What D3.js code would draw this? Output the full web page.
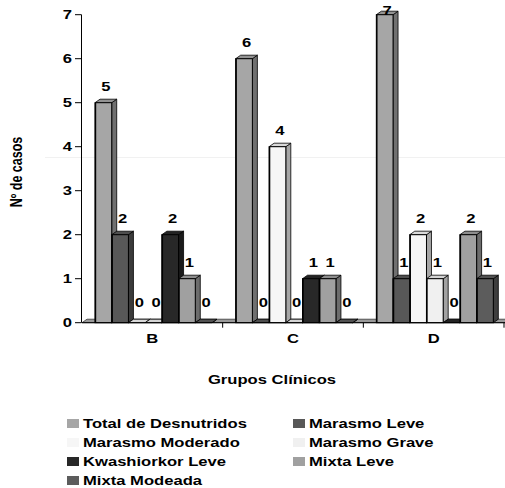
<!DOCTYPE html>
<html>
<head>
<meta charset="utf-8">
<script src="https://cdn.jsdelivr.net/npm/d3@7"></script>
<style>
  html, body { margin: 0; padding: 0; background: #fff; }
  svg { display: block; }
  text { font-family: "Liberation Sans", Arial, Helvetica, sans-serif; font-weight: bold; fill: #000; }
</style>
</head>
<body>
<svg id="chart" width="505" height="488"></svg>
<script>
// Clinical groups on the x axis
const groups = ["B", "C", "D"];

// Malnutrition types (one bar per type inside each group)
const series = [
  "Total de Desnutridos",
  "Marasmo Leve",
  "Marasmo Moderado",
  "Marasmo Grave",
  "Kwashiorkor Leve",
  "Mixta Leve",
  "Mixta Modeada"
];

// Number of cases per type, in group order B, C, D
const totalDesnutridos = [5, 6, 7];
const marasmoLeve      = [2, 0, 1];
const marasmoModerado  = [0, 4, 2];
const marasmoGrave     = [0, 0, 1];
const kwashiorkorLeve  = [2, 1, 0];
const mixtaLeve        = [1, 1, 2];
const mixtaModeada     = [0, 0, 1];

const yTicks = [0, 1, 2, 3, 4, 5, 6, 7];

const seriesValues = [totalDesnutridos, marasmoLeve, marasmoModerado, marasmoGrave,
                      kwashiorkorLeve, mixtaLeve, mixtaModeada];

const seriesColors = ["#a6a6a6", "#585858", "#f6f6f6", "#f0f0f0", "#282828", "#a0a0a0", "#5c5c5c"];

// Flatten into one row per bar
const rows = [];
groups.forEach((g, gi) => {
  series.forEach((s, si) => {
    rows.push({ group: g, series: s, si: si, value: seriesValues[si][gi] });
  });
});

const svg = d3.select("#chart");
const SX = 1.33;          // horizontal stretch of the lettering
const depthX = 5, depthY = 3.5;   // 3-D offset of the bars

const y = d3.scaleLinear().domain([0, 7]).range([322.7, 14.7]);
const x0 = d3.scaleBand().domain(groups).range([82, 504]).padding(0);
const x1 = d3.scaleBand().domain(series).range([13, 130]).padding(0);
const color = d3.scaleOrdinal().domain(series).range(seriesColors);

const base = y(0);

// faint horizontal rule
svg.append("line")
  .attr("x1", 45).attr("x2", 505)
  .attr("y1", 157.5).attr("y2", 157.5)
  .attr("stroke", "#f1f1f1").attr("stroke-width", 1);

// 3-D floor strip along the base
const [fx0, fx1] = x0.range();
svg.append("polygon")
  .attr("points", [[fx0, base], [fx0 + depthX, base - depthY], [fx1 + 1 + depthX, base - depthY], [fx1 + 1, base]].map(p => p.join(",")).join(" "))
  .attr("fill", "#9a9a9a")
  .attr("stroke", "#222")
  .attr("stroke-width", 0.7);

// Bars: side, top, then front, left to right
const bars = svg.append("g").selectAll("g.bar")
  .data(rows)
  .join("g")
  .attr("class", "bar");

bars.each(function (d) {
  const g = d3.select(this);
  const x = x0(d.group) + x1(d.series);
  const w = x1.bandwidth();
  const top = y(d.value);
  const c = d3.color(color(d.series));
  const topC = c.darker(0.35);
  const sideC = c.l < 0 ? c : d3.color(color(d.series)).darker(1.1);

  g.append("polygon")
    .attr("points", [[x + w, top], [x + w + depthX, top - depthY], [x + w + depthX, base - depthY], [x + w, base]].map(p => p.join(",")).join(" "))
    .attr("fill", sideC)
    .attr("stroke", "#000").attr("stroke-width", 0.8).attr("stroke-linejoin", "round");

  g.append("polygon")
    .attr("points", [[x, top], [x + depthX, top - depthY], [x + w + depthX, top - depthY], [x + w, top]].map(p => p.join(",")).join(" "))
    .attr("fill", topC)
    .attr("stroke", "#000").attr("stroke-width", 0.8).attr("stroke-linejoin", "round");

  if (base - top > 0) {
    g.append("rect")
      .attr("x", x).attr("y", top)
      .attr("width", w).attr("height", base - top)
      .attr("fill", c)
      .attr("stroke", "#000").attr("stroke-width", 1);
    g.append("line")
      .attr("x1", x + 0.5).attr("x2", x + 0.5)
      .attr("y1", top).attr("y2", base)
      .attr("stroke", "#000").attr("stroke-width", 1.4);
  }
});

// Value labels above each bar
svg.append("g").selectAll("text")
  .data(rows)
  .join("text")
  .attr("text-anchor", "middle")
  .attr("font-size", 12.5)
  .attr("transform", d => {
    const cx = x0(d.group) + x1(d.series) + x1.bandwidth() / 2 + depthX / 2;
    const ty = Math.max(y(d.value) - 12 - (d.value === 0 ? 4 : 0), 15);
    return `translate(${cx},${ty}) scale(${SX},1)`;
  })
  .text(d => d.value);

// Y axis
const yAxis = svg.append("g");
yAxis.append("line")
  .attr("x1", 81.5).attr("x2", 81.5)
  .attr("y1", y(7)).attr("y2", base)
  .attr("stroke", "#000").attr("stroke-width", 1);
yAxis.selectAll("line.tick")
  .data(yTicks)
  .join("line")
  .attr("class", "tick")
  .attr("x1", 75).attr("x2", 81.5)
  .attr("y1", d => y(d)).attr("y2", d => y(d))
  .attr("stroke", "#000").attr("stroke-width", 1);
yAxis.selectAll("text")
  .data(yTicks)
  .join("text")
  .attr("text-anchor", "end")
  .attr("font-size", 12.5)
  .attr("dy", "0.36em")
  .attr("transform", d => `translate(72,${y(d)}) scale(${SX},1)`)
  .text(d => d);

// X axis
const xAxis = svg.append("g");
xAxis.append("line")
  .attr("x1", fx0).attr("x2", 505)
  .attr("y1", base).attr("y2", base)
  .attr("stroke", "#000").attr("stroke-width", 1);
xAxis.selectAll("line.tick")
  .data(groups)
  .join("line")
  .attr("class", "tick")
  .attr("x1", d => x0(d) + x0.bandwidth()).attr("x2", d => x0(d) + x0.bandwidth())
  .attr("y1", base).attr("y2", base + 5)
  .attr("stroke", "#000").attr("stroke-width", 1);
xAxis.selectAll("text")
  .data(groups)
  .join("text")
  .attr("text-anchor", "middle")
  .attr("font-size", 12.5)
  .attr("transform", d => `translate(${x0(d) + x0.bandwidth() / 2},343) scale(${SX},1)`)
  .text(d => d);

// Axis titles
svg.append("text")
  .attr("text-anchor", "middle")
  .attr("font-size", 12.5)
  .attr("transform", `translate(272,384) scale(${SX},1)`)
  .text("Grupos Clínicos");

svg.append("text")
  .attr("text-anchor", "middle")
  .attr("font-size", 12.5)
  .attr("transform", `translate(22,172) scale(${SX},1) rotate(-90)`)
  .text("Nº de casos");

// Legend, two columns
const legend = svg.append("g").selectAll("g")
  .data(series)
  .join("g")
  .attr("transform", (d, i) => `translate(${i % 2 === 0 ? 67 : 293},${423.5 + Math.floor(i / 2) * 19})`);
legend.append("rect")
  .attr("x", 0).attr("y", -4.5)
  .attr("width", 12).attr("height", 9)
  .attr("fill", d => color(d));
legend.append("text")
  .attr("font-size", 12.5)
  .attr("dy", "0.36em")
  .attr("transform", `translate(16,0) scale(${SX},1)`)
  .text(d => d);
</script>
</body>
</html>
